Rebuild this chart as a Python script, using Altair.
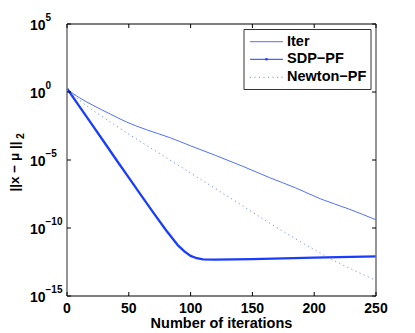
import altair as alt
import pandas as pd

# ---- data (error norm vs iteration) ----
iter_it = [0, 5, 10, 21, 35, 48, 65, 83, 100, 120, 142, 164, 185, 205, 228, 250]
iter_err = [1.82, 0.76, 0.38, 0.105, 0.024, 6.3e-3, 1.6e-3, 4.5e-4, 1.1e-4, 2.2e-5,
            3.5e-6, 5.0e-7, 8.9e-8, 1.4e-8, 2.5e-9, 4.0e-10]

sdp_it = [0, 10, 20, 30, 40, 50, 60, 70, 80, 90, 95, 100, 105, 110, 120, 150, 200, 250]
sdp_err = [1.82, 8.9e-2, 4.4e-3, 2.1e-4, 1.0e-5, 5.0e-7, 2.5e-8, 1.3e-9, 7.1e-11, 5.0e-12,
           1.9e-12, 8.9e-13, 6.0e-13, 5.0e-13, 4.8e-13, 5.2e-13, 6.6e-13, 8.3e-13]

newton_it = [0, 10, 21, 35, 50, 75, 100, 135, 156, 185, 213, 250]
newton_err = [1.82, 0.25, 4.5e-2, 6.3e-3, 7.9e-4, 3.0e-5, 1.1e-6, 1.1e-8, 6.5e-10, 1.6e-11,
              5.6e-13, 1.4e-14]

x_ticks = [0, 50, 100, 150, 200, 250]
x_tick_labels = ["0", "50", "100", "150", "200", "250"]
y_ticks = [1e5, 1e0, 1e-5, 1e-10, 1e-15]
y_tick_exps = ["5", "0", "\u22125", "\u221210", "\u221215"]

series_names = ["Iter", "SDP\u2212PF", "Newton\u2212PF"]
x_title = "Number of iterations"
y_title_main = "||x \u2212 \u03bc ||"
y_title_sub = "2"

# ---- layout ----
W, H = 309, 272
FONT = "Liberation Sans"
xs = alt.Scale(domain=[0, 250], nice=False, zero=False)
ys = alt.Scale(type="log", domain=[1e-15, 1e5], nice=False)
one = pd.DataFrame({"a": [0]})

c_iter = "#5070ff"
c_sdp = "#1a3cff"
c_newton = "#5a78ff"


def line_layer(xv, yv, **kw):
    df = pd.DataFrame({"it": xv, "err": yv})
    return alt.Chart(df).mark_line(clip=True, **kw).encode(
        x=alt.X("it:Q", scale=xs, axis=None),
        y=alt.Y("err:Q", scale=ys, axis=None),
    )


layers = []

# lines
layers.append(line_layer(newton_it, newton_err, color=c_newton, strokeWidth=1,
                         strokeDash=[1, 3.5], interpolate="monotone"))
layers.append(line_layer(iter_it, iter_err, color=c_iter, strokeWidth=1, interpolate="monotone"))
layers.append(line_layer(sdp_it, sdp_err, color=c_sdp, strokeWidth=2.3))

# frame
layers.append(alt.Chart(one).mark_rule(color="#000", strokeWidth=1).encode(
    x=alt.value(0), x2=alt.value(W), y=alt.value(0)))
layers.append(alt.Chart(one).mark_rule(color="#000", strokeWidth=1).encode(
    x=alt.value(0), x2=alt.value(W), y=alt.value(H)))
layers.append(alt.Chart(one).mark_rule(color="#7a7a7a", strokeWidth=1.6).encode(
    x=alt.value(0), y=alt.value(0), y2=alt.value(H)))
layers.append(alt.Chart(one).mark_rule(color="#7a7a7a", strokeWidth=1.6).encode(
    x=alt.value(W), y=alt.value(0), y2=alt.value(H)))

# x ticks (inward, bottom and top) and labels
xt = pd.DataFrame({"it": x_ticks, "lab": x_tick_labels})
layers.append(alt.Chart(xt).mark_rule(color="#000").encode(
    x=alt.X("it:Q", scale=xs, axis=None), y=alt.value(H), y2=alt.value(H - 4)))
layers.append(alt.Chart(xt).mark_rule(color="#000").encode(
    x=alt.X("it:Q", scale=xs, axis=None), y=alt.value(0), y2=alt.value(4)))
layers.append(alt.Chart(xt).mark_text(font=FONT, fontSize=14, fontWeight="bold",
                                      baseline="middle", align="center", color="#000").encode(
    x=alt.X("it:Q", scale=xs, axis=None), y=alt.value(284.5), text="lab:N"))

# y ticks and labels
yt = pd.DataFrame({"err": y_ticks, "exp": y_tick_exps, "base": ["10"] * len(y_ticks)})
layers.append(alt.Chart(yt).mark_rule(color="#000").encode(
    y=alt.Y("err:Q", scale=ys, axis=None), x=alt.value(0), x2=alt.value(4)))
layers.append(alt.Chart(yt).mark_rule(color="#000").encode(
    y=alt.Y("err:Q", scale=ys, axis=None), x=alt.value(W - 4), x2=alt.value(W)))
layers.append(alt.Chart(yt).mark_text(font=FONT, fontSize=14, fontWeight="bold",
                                      baseline="middle", align="left", dy=1.5, color="#000").encode(
    y=alt.Y("err:Q", scale=ys, axis=None), x=alt.value(-37), text="base:N"))
layers.append(alt.Chart(yt).mark_text(font=FONT, fontSize=10, fontWeight="bold",
                                      baseline="middle", align="left", dy=-6.5, color="#000").encode(
    y=alt.Y("err:Q", scale=ys, axis=None), x=alt.value(-21.5), text="exp:N"))

# axis titles
layers.append(alt.Chart(pd.DataFrame({"t": [x_title]})).mark_text(
    font=FONT, fontSize=14.5, fontWeight="bold", baseline="middle", align="center", color="#000").encode(
    x=alt.value(W / 2), y=alt.value(299.5), text="t:N"))
layers.append(alt.Chart(pd.DataFrame({"t": [y_title_main]})).mark_text(
    font=FONT, fontSize=13.5, fontWeight="bold", baseline="middle", align="center", angle=270,
    color="#000").encode(x=alt.value(-52), y=alt.value(142.5), text="t:N"))
layers.append(alt.Chart(pd.DataFrame({"t": [y_title_sub]})).mark_text(
    font=FONT, fontSize=10.5, fontWeight="bold", baseline="middle", align="center", angle=270,
    color="#000").encode(x=alt.value(-46.5), y=alt.value(112), text="t:N"))

# legend
layers.append(alt.Chart(one).mark_rect(fill="white", stroke="#333", strokeWidth=1).encode(
    x=alt.value(177), x2=alt.value(304), y=alt.value(5.5), y2=alt.value(65.5)))
leg_y = [17.7, 35.3, 53.3]
layers.append(alt.Chart(one).mark_rule(color=c_iter, strokeWidth=1).encode(
    x=alt.value(183), x2=alt.value(216), y=alt.value(leg_y[0])))
layers.append(alt.Chart(one).mark_rule(color=c_sdp, strokeWidth=1).encode(
    x=alt.value(183), x2=alt.value(216), y=alt.value(leg_y[1])))
layers.append(alt.Chart(one).mark_circle(color=c_sdp, size=7, opacity=1).encode(
    x=alt.value(199.5), y=alt.value(leg_y[1])))
layers.append(alt.Chart(one).mark_rule(color=c_newton, strokeWidth=1, strokeDash=[1, 3.5]).encode(
    x=alt.value(183), x2=alt.value(216), y=alt.value(leg_y[2])))
for i, nm in enumerate(series_names):
    layers.append(alt.Chart(pd.DataFrame({"t": [nm]})).mark_text(
        font=FONT, fontSize=14.5, fontWeight="bold", baseline="middle", align="left", color="#000").encode(
        x=alt.value(220), y=alt.value(leg_y[i]), text="t:N"))

chart = alt.layer(*layers).properties(
    width=W, height=H,
    padding={"left": 59, "top": 16, "right": 20, "bottom": 35},
    autosize=alt.AutoSizeParams(type="none"),
).configure_view(stroke=None)

chart.save("out.html", embed_options={"renderer": "svg", "actions": False})
